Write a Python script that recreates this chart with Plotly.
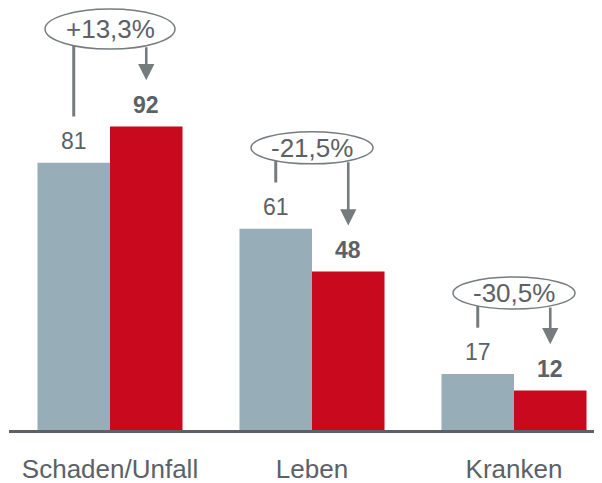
import math
import plotly.graph_objects as go

# ---- data ----
categories = ["Schaden/Unfall", "Leben", "Kranken"]
values_prev = [81, 61, 17]
values_curr = [92, 48, 12]
change_labels = ["+13,3%", "-21,5%", "-30,5%"]

# ---- styles ----
GREY_BAR = "#97aeb8"
RED_BAR = "#c8091e"
TEXT = "#5b6166"
LINE = "#767b7e"
FONT = "Liberation Sans, Arial, sans-serif"

# the page body adds an 8px margin, so the figure is sized to fit the window
W, H = 594, 475
M_L, M_R, M_T, M_B = 1, 0, 0, 53
PX_PER_UNIT = 3.30
plot_w = W - M_L - M_R
plot_h = H - M_T - M_B
Y_MAX = plot_h / PX_PER_UNIT
BARGAP = 0.282
x_units = plot_w / 202.0
x_range = [-0.5, -0.5 + x_units]
px_per_y = plot_h / Y_MAX
px_per_x = plot_w / x_units
half = (1 - BARGAP) / 4  # offset of each bar centre from category centre

fig = go.Figure()
fig.add_trace(go.Bar(x=list(range(len(categories))), y=values_prev,
                     marker=dict(color=GREY_BAR, line=dict(width=0)),
                     hoverinfo="skip"))
fig.add_trace(go.Bar(x=list(range(len(categories))), y=values_curr,
                     marker=dict(color=RED_BAR, line=dict(width=0)),
                     hoverinfo="skip"))

shapes = []
annotations = []
for i, (g, r, lab) in enumerate(zip(values_prev, values_curr, change_labels)):
    xg, xr = i - half, i + half
    top = max(g, r)
    big = r > g
    ey = top + 24.5 + (5 if big else 0)
    rx = 65 if lab.startswith("+") else 61
    ry = 20 if big else 16
    dx = half * px_per_x
    edge = ry * math.sqrt(max(0.0, 1 - (dx / rx) ** 2)) / px_per_y
    # value labels
    annotations.append(dict(x=xg, y=g + 6.5, xref="x", yref="y", text=str(g),
                            showarrow=False, font=dict(size=23, color=TEXT, family=FONT)))
    annotations.append(dict(x=xr, y=r + 6.5, xref="x", yref="y", text="<b>%d</b>" % r,
                            showarrow=False, font=dict(size=23, color=TEXT, family=FONT)))
    # line from bubble to previous value
    shapes.append(dict(type="line", xref="x", yref="y", x0=xg, x1=xg,
                       y0=ey - edge, y1=g + 14, line=dict(color=LINE, width=3), layer="above"))
    # arrow to current value
    annotations.append(dict(x=xr, y=r + 14, xref="x", yref="y", ax=xr, ay=ey - edge,
                            axref="x", ayref="y", text="", showarrow=True,
                            arrowhead=2, arrowsize=1.25, arrowwidth=2.6, arrowcolor=LINE,
                            standoff=0, startstandoff=0))
    # bubble
    shapes.append(dict(type="circle", xref="x", yref="y", xsizemode="pixel", ysizemode="pixel",
                       xanchor=i, yanchor=ey, x0=-rx, x1=rx, y0=-ry, y1=ry,
                       line=dict(color=LINE, width=1.5), fillcolor="white", layer="above"))
    annotations.append(dict(x=i, y=ey, xref="x", yref="y", text=lab, showarrow=False,
                            font=dict(size=26, color=TEXT, family=FONT)))

fig.update_layout(
    width=W, height=H,
    margin=dict(l=M_L, r=M_R, t=M_T, b=M_B),
    paper_bgcolor="white", plot_bgcolor="white",
    barmode="group", bargap=BARGAP, bargroupgap=0,
    showlegend=False,
    shapes=shapes, annotations=annotations,
    font=dict(family=FONT, color=TEXT),
    xaxis=dict(range=x_range, tickmode="array", tickvals=list(range(len(categories))),
               ticktext=categories, showgrid=False, zeroline=False,
               showline=True, linecolor="#5b6166", linewidth=2.5,
               ticks="", ticklabelstandoff=14, automargin=False,
               tickfont=dict(size=26, color=TEXT, family=FONT), fixedrange=True),
    yaxis=dict(range=[0, Y_MAX], visible=False, fixedrange=True),
)

fig.write_html("out.html", config={"displayModeBar": False})
